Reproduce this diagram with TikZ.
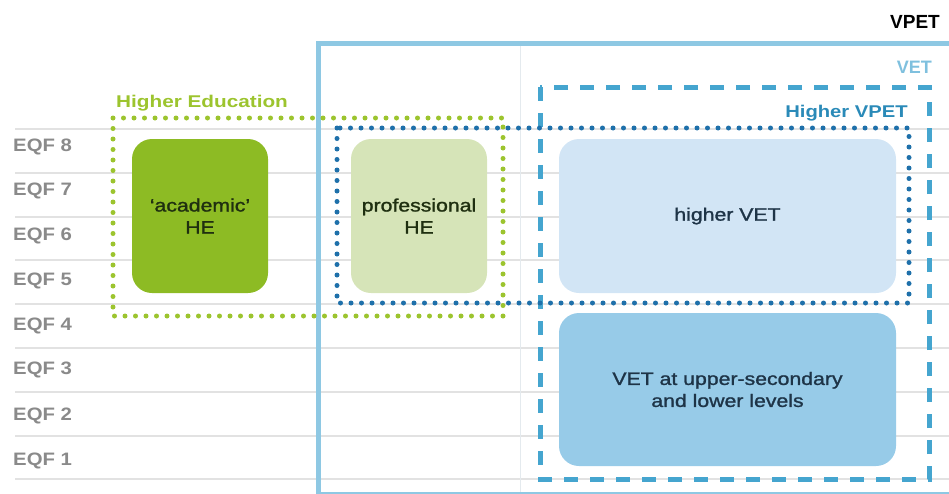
\documentclass[tikz,border=0pt]{standalone}
\usepackage{fontspec}
\setmainfont{Liberation Sans}
\newfontfamily\medfont[FakeBold=1.2]{Liberation Sans}
\definecolor{gridc}{HTML}{E2E2E2}
\definecolor{vetframe}{HTML}{8EC8E3}
\definecolor{vpetdash}{HTML}{45A5CF}
\definecolor{vpetdot}{HTML}{1E70AA}
\definecolor{hegreen}{HTML}{9CC42E}
\definecolor{acadfill}{HTML}{8DBB24}
\definecolor{proffill}{HTML}{D6E4B8}
\definecolor{hvetfill}{HTML}{D2E5F5}
\definecolor{vetufill}{HTML}{97CBE8}
\definecolor{eqfgray}{HTML}{8A8A8A}
\definecolor{greentext}{HTML}{1F2F10}
\definecolor{bluetext}{HTML}{1E3447}
\definecolor{vetlabel}{HTML}{7FC0DE}
\definecolor{hvpetlabel}{HTML}{2A8AB8}
\definecolor{vline}{HTML}{E4EAEE}
\newcommand{\widetxt}[1]{\scalebox{1.18}[1]{#1}}
\begin{document}
\begin{tikzpicture}[x=1pt,y=-1pt,
  levelbox/.style={rounded corners=20pt, inner sep=0pt, align=center,
    font=\fontsize{18}{22}\selectfont\medfont},
  eqf/.style={anchor=base west, text=eqfgray, inner sep=0pt,
    font=\fontsize{18}{22}\selectfont\bfseries},
  grplabel/.style={inner sep=0pt, font=\fontsize{17}{20}\selectfont\bfseries},
  gridline/.style={draw=gridc, line width=1.3pt}
]
\useasboundingbox (0,0) rectangle (949,493);
% grid lines
\foreach \yy in {129,173,217,260,304,348,392,436,479}{
  \draw[gridline] (15,\yy) -- (949,\yy);
}
% EQF labels
\foreach \k/\yy in {8/145,7/189,6/234,5/279,4/324,3/368,2/414,1/459}{
  \node[eqf] (eqf\k) at (13,\yy+6.5) {\scalebox{1.13}[1]{EQF \k}};
}
% VET frame and separator
\draw[vline, line width=1pt] (520,43) -- (520,493);
\draw[vetframe, line width=5pt] (318,43) rectangle (975,494);
% boxes
\node[levelbox, fill=acadfill, text=greentext, minimum width=136pt, minimum height=154pt]
  (acad) at (200,216) {\widetxt{‘academic’}\\\widetxt{HE}};
\node[levelbox, fill=proffill, text=greentext, minimum width=136pt, minimum height=154pt]
  (prof) at (419,216) {\widetxt{professional}\\\widetxt{HE}};
\node[levelbox, fill=hvetfill, text=bluetext, minimum width=337pt, minimum height=154pt]
  (hvet) at (727.5,216) {\widetxt{higher VET}};
\node[levelbox, fill=vetufill, text=bluetext, minimum width=337pt, minimum height=153pt]
  (vetu) at (727.5,389.5) {\widetxt{VET at upper-secondary}\\\widetxt{and lower levels}};
% group frames
\draw[vpetdash, line width=5pt, dash pattern=on 14pt off 12pt] (540,87) rectangle (929,479);
\draw[hegreen, line width=5pt, line cap=round, dash pattern=on 0pt off 10.5pt] (113,118) rectangle (503,316);
\draw[vpetdot, line width=5pt, line cap=round, dash pattern=on 0pt off 10.5pt] (337,128) rectangle (909,303);
% group labels
\node[grplabel, anchor=base west, text=hegreen] (helab) at (116,107) {\scalebox{1.22}[1]{Higher Education}};
\node[grplabel, anchor=base east, text=hvpetlabel] (hvpetlab) at (908,117) {\scalebox{1.19}[1]{Higher VPET}};
\node[grplabel, anchor=base east, text=vetlabel, font=\fontsize{18}{20}\selectfont\bfseries] (vetlab) at (932,73) {VET};
\node[grplabel, anchor=base east, text=black, font=\fontsize{19}{20}\selectfont\bfseries] (vpetlab) at (940,28) {VPET};
\end{tikzpicture}
\end{document}
